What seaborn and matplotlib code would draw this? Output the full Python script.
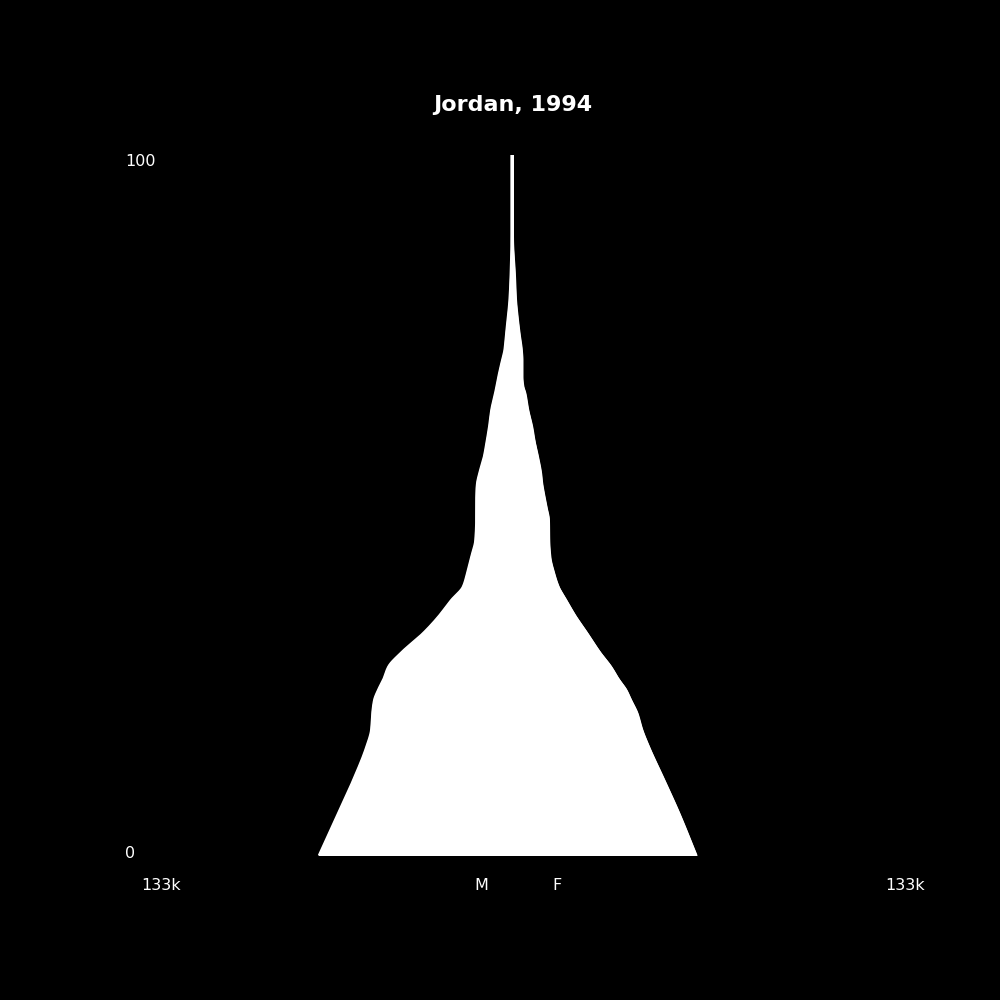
import numpy as np
import pandas as pd
import matplotlib
matplotlib.use("Agg")
import matplotlib.pyplot as plt
import seaborn as sns

# ---- data (thousands of people by age) ----
ages = [0, 6, 10.7, 15.4, 17.9, 20.3, 22.1, 23.6, 25, 26.9, 28.9, 31.7, 34, 36.4,
        38.3, 40.3, 42.6, 45, 47.9, 49.7, 52.1, 53.1, 54.6, 56.9, 59.1, 61.1, 63.6,
        66, 67, 68.3, 70.7, 72.1, 74.6, 76.9, 79.3, 83, 88, 91, 100]
male = [66.2, 59.6, 54.5, 50.0, 48.3, 47.9, 47.3, 45.9, 44.2, 42.4, 38.0, 30.4, 25.3, 20.8,
        16.8, 15.3, 13.9, 12.5, 12.2, 12.2, 12.1, 11.9, 11.1, 9.55, 8.6, 7.8, 7.0,
        5.7, 5.2, 4.6, 3.3, 2.5, 1.9, 1.3, 0.76, 0.35, 0.05, 0.0, 0.0]
female = [63.1, 57.2, 52.1, 46.9, 44.5, 42.8, 40.7, 39.0, 36.6, 33.8, 30.1, 25.6, 21.8, 18.4,
          15.8, 14.2, 12.9, 12.5, 12.4, 11.6, 10.5, 10.1, 9.7, 8.66, 7.5, 6.7, 5.3,
          4.3, 3.6, 3.3, 3.3, 3.1, 2.3, 1.65, 1.1, 0.7, 0.05, 0.0, 0.0]
title = "Jordan, 1994"
x_max_label = "133k"
x_max = 133
age_labels = ["0", "100"]
sex_labels = ["M", "F"]


def pchip(x, y, xn):
    """Monotone cubic curve through the given points (for smooth drawing)."""
    x = np.asarray(x, float)
    y = np.asarray(y, float)
    h = np.diff(x)
    d = np.diff(y) / h
    n = len(x)
    m = np.zeros(n)
    for k in range(1, n - 1):
        if d[k - 1] * d[k] > 0:
            w1 = 2 * h[k] + h[k - 1]
            w2 = h[k] + 2 * h[k - 1]
            m[k] = (w1 + w2) / (w1 / d[k - 1] + w2 / d[k])
    m[0] = d[0]
    m[-1] = d[-1]
    idx = np.clip(np.searchsorted(x, xn) - 1, 0, n - 2)
    t = (xn - x[idx]) / h[idx]
    h00 = 2 * t**3 - 3 * t**2 + 1
    h10 = t**3 - 2 * t**2 + t
    h01 = -2 * t**3 + 3 * t**2
    h11 = t**3 - t**2
    return (h00 * y[idx] + h10 * h[idx] * m[idx] + h01 * y[idx + 1]
            + h11 * h[idx] * m[idx + 1])


sns.set_theme(style="dark")
plt.rcParams["font.family"] = ["DejaVu Sans"]

fig = plt.figure(figsize=(10, 10), dpi=100, facecolor="black")
ax = fig.add_axes([0.125, 0.145, 0.774, 0.70])
ax.set_facecolor("black")

grid = np.linspace(0, 100, 1001)
df = pd.DataFrame({
    "age": grid,
    "male": -np.clip(pchip(ages, male, grid), 0, None),
    "female": np.clip(pchip(ages, female, grid), 0, None),
})
ax.fill_betweenx(df["age"], df["male"], df["female"], facecolor="white",
                 edgecolor="white", linewidth=2.0, zorder=2)
sns.lineplot(data=df, x="male", y="age", orient="y", color="white", lw=2.0, ax=ax, zorder=3)
sns.lineplot(data=df, x="female", y="age", orient="y", color="white", lw=2.0, ax=ax, zorder=3)

ax.set_xlim(-x_max, x_max)
ax.set_ylim(0, 100)
ax.set_xlabel("")
ax.set_ylabel("")
ax.set_xticks([])
ax.set_yticks([])
for s in ax.spines.values():
    s.set_visible(False)
ax.grid(False)

fs = 11.5
fig.text(0.5125, 0.895, title, color="white", fontsize=16, fontweight="bold",
         ha="center", va="center")
fig.text(0.125, 1 - 0.854, age_labels[0], color="white", fontsize=fs, ha="left", va="center")
fig.text(0.125, 1 - 0.162, age_labels[1], color="white", fontsize=fs, ha="left", va="center")
fig.text(0.1615, 1 - 0.885, x_max_label, color="white", fontsize=fs, ha="center", va="center")
fig.text(0.9055, 1 - 0.885, x_max_label, color="white", fontsize=fs, ha="center", va="center")
fig.text(0.481, 1 - 0.885, sex_labels[0], color="white", fontsize=fs, ha="center", va="center")
fig.text(0.5565, 1 - 0.885, sex_labels[1], color="white", fontsize=fs, ha="center", va="center")

fig.savefig("out.png", dpi=100, facecolor="black")
